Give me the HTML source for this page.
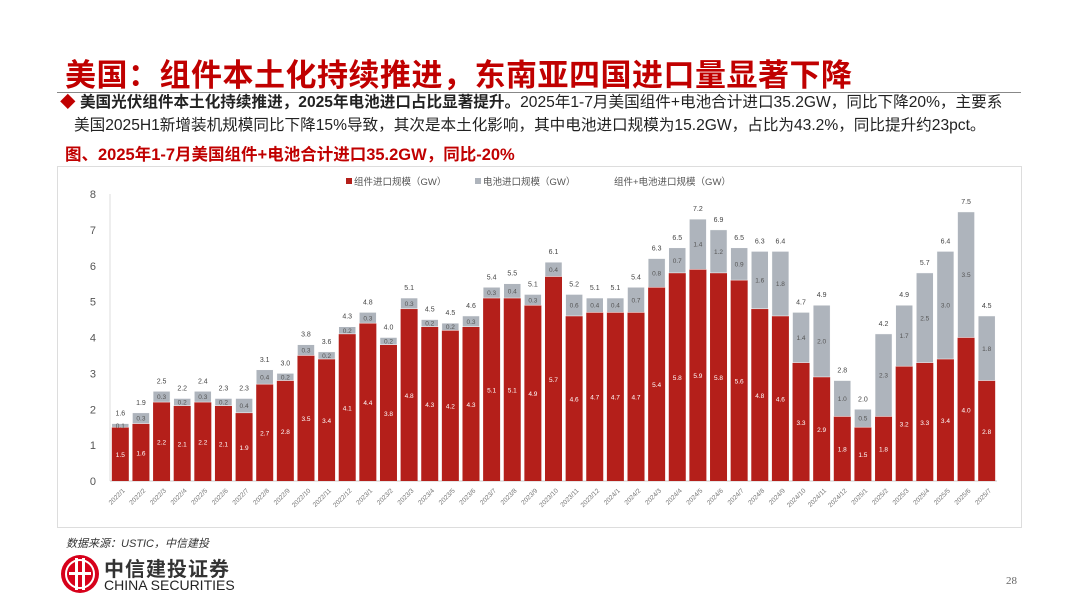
<!DOCTYPE html>
<html><head><meta charset="utf-8">
<style>
body{margin:0;width:1080px;height:608px;background:#fff;position:relative;overflow:hidden;font-family:"Liberation Sans","Noto Sans CJK SC",sans-serif;}
.abs{position:absolute;white-space:nowrap;}
</style></head>
<body>
<div class="abs" style="left:65px;top:50px;font-size:31px;font-weight:bold;color:#c00000;letter-spacing:0.5px;">美国：组件本土化持续推进，东南亚四国进口量显著下降</div>
<div class="abs" style="left:57px;top:92px;width:964px;height:1px;background:#888;"></div>
<div class="abs" style="left:60px;top:91px;font-size:15.6px;line-height:23px;color:#222;">
<span style="color:#c00000;">◆</span> <b>美国光伏组件本土化持续推进，2025年电池进口占比显著提升。</b>2025年1-7月美国组件+电池合计进口35.2GW，同比下降20%，主要系<br>
<span style="padding-left:14px;">美国2025H1新增装机规模同比下降15%导致，其次是本土化影响，其中电池进口规模为15.2GW，占比为43.2%，同比提升约23pct。</span></div>
<div class="abs" style="left:65px;top:141px;font-size:16.5px;font-weight:bold;color:#c00000;">图、2025年1-7月美国组件+电池合计进口35.2GW，同比-20%</div>
<div class="abs" style="left:57px;top:166px;width:963px;height:360px;border:1px solid #ddd;"></div>
<svg class="abs" style="left:0;top:0" width="1080" height="608" id="chart"></svg>
<div class="abs" style="left:66px;top:535px;font-size:11px;font-style:italic;color:#333;">数据来源：USTIC，中信建投</div>
<svg class="abs" style="left:59px;top:553px" width="42" height="42">
<circle cx="21" cy="21" r="19" fill="#d7001a"/><circle cx="21" cy="21" r="14" fill="none" stroke="#fff" stroke-width="2"/>
<rect x="16" y="5" width="3" height="32" fill="#fff"/><rect x="23" y="5" width="3" height="32" fill="#fff"/><rect x="10" y="19" width="22" height="3" fill="#fff"/></svg>
<div class="abs" style="left:104px;top:553px;font-size:20px;font-weight:bold;color:#333;letter-spacing:1px;">中信建投证券</div>
<div class="abs" style="left:104px;top:577px;font-size:14px;color:#222;">CHINA SECURITIES</div>
<div class="abs" style="left:1006px;top:575px;font-size:11px;color:#666;font-family:'Liberation Serif',serif;">28</div>
<script>
const categories=["2022/1","2022/2","2022/3","2022/4","2022/5","2022/6","2022/7","2022/8","2022/9","2022/10","2022/11","2022/12","2023/1","2023/2","2023/3","2023/4","2023/5","2023/6","2023/7","2023/8","2023/9","2023/10","2023/11","2023/12","2024/1","2024/2","2024/3","2024/4","2024/5","2024/6","2024/7","2024/8","2024/9","2024/10","2024/11","2024/12","2025/1","2025/2","2025/3","2025/4","2025/5","2025/6","2025/7"];
const moduleValues=[1.5,1.6,2.2,2.1,2.2,2.1,1.9,2.7,2.8,3.5,3.4,4.1,4.4,3.8,4.8,4.3,4.2,4.3,5.1,5.1,4.9,5.7,4.6,4.7,4.7,4.7,5.4,5.8,5.9,5.8,5.6,4.8,4.6,3.3,2.9,1.8,1.5,1.8,3.2,3.3,3.4,4.0,2.8];
const cellValues=[0.1,0.3,0.3,0.2,0.3,0.2,0.4,0.4,0.2,0.3,0.2,0.2,0.3,0.2,0.3,0.2,0.2,0.3,0.3,0.4,0.3,0.4,0.6,0.4,0.4,0.7,0.8,0.7,1.4,1.2,0.9,1.6,1.8,1.4,2.0,1.0,0.5,2.3,1.7,2.5,3.0,3.5,1.8];
const totalValues=[1.6,1.9,2.5,2.2,2.4,2.3,2.3,3.1,3.0,3.8,3.6,4.3,4.8,4.0,5.1,4.5,4.5,4.6,5.4,5.5,5.1,6.1,5.2,5.1,5.1,5.4,6.3,6.5,7.2,6.9,6.5,6.3,6.4,4.7,4.9,2.8,2.0,4.2,4.9,5.7,6.4,7.5,4.5];
const yTicks=[0,1,2,3,4,5,6,7,8];
const svg=document.getElementById('chart');
const NS='http://www.w3.org/2000/svg';
const x0=110,x1=997,yBase=481,yTop=194,yMax=8;
const step=(x1-x0)/categories.length,bw=17;
const y=v=>yBase-(v/yMax)*(yBase-yTop);
const xc=i=>x0+step*(i+0.5);
function mk(tag,attrs,txt){const e=document.createElementNS(NS,tag);for(const k in attrs)e.setAttribute(k,attrs[k]);if(txt!=null)e.textContent=txt;svg.appendChild(e);return e;}
let e=mk('line',{x1:x0,x2:x0,y1:yTop,y2:yBase,stroke:'#ddd'});

e=mk('line',{x1:x0,x2:x1,y1:yBase,y2:yBase,stroke:'#ccc'});

yTicks.forEach(t=>{
 const l=mk('text',{x:96,y:y(t)+4,'font-size':11,fill:'#555','text-anchor':'end'},t);
 
 
});
categories.forEach((c,i)=>{
 const cx=xc(i),m=moduleValues[i],s=cellValues[i];
 const r=mk('rect',{x:cx-bw/2,y:y(m),width:bw,height:yBase-y(m),fill:'#b41f1a'});
 
 
 const g=mk('rect',{x:cx-bw/2,y:y(m+s),width:bw,height:y(m)-y(m+s),fill:'#aeb4bc',stroke:'#fff','stroke-width':0.5});
 
 
 const ml=mk('text',{x:cx,y:(y(m)+yBase)/2+3,'font-size':6.5,fill:'#fff','text-anchor':'middle'},m.toFixed(1));
 
 
 const sl=mk('text',{x:cx,y:(y(m)+y(m+s))/2+2.5,'font-size':6.5,fill:'#555','text-anchor':'middle'},s.toFixed(1));
 
 
 const tl=mk('text',{x:cx,y:y(m+s)-8,'font-size':7,fill:'#444','text-anchor':'middle'},totalValues[i].toFixed(1));
 
 
 const xl=mk('text',{x:cx+5,y:yBase+10,'font-size':6.5,fill:'#777','text-anchor':'end',transform:`rotate(-45 ${cx+5} ${yBase+10})`},c);
 
 
});
const legend=[{x:346,c:'#b41f1a',t:'组件进口规模（GW）'},{x:475,c:'#aeb4bc',t:'电池进口规模（GW）'},{x:606,c:null,t:'组件+电池进口规模（GW）'}];
legend.forEach(L=>{
 if(L.c){const s=mk('rect',{x:L.x,y:178,width:6,height:6,fill:L.c});
 
 }
 const t=mk('text',{x:L.x+8,y:185,'font-size':9.5,fill:'#555'},L.t);
 
 
});
</script>
</body></html>
